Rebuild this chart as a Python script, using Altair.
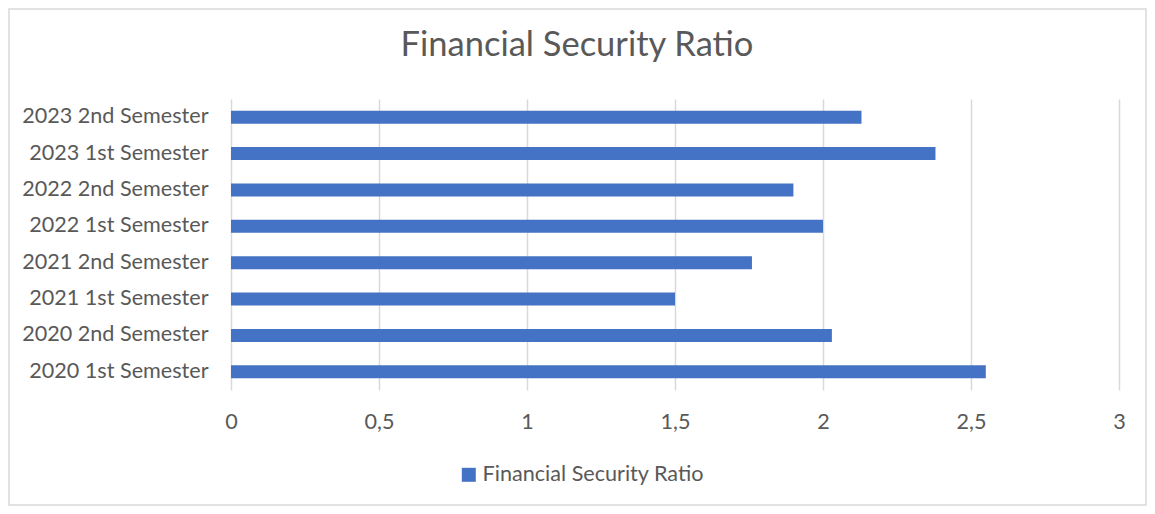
import altair as alt
import pandas as pd

categories = [
    "2020 1st Semester", "2020 2nd Semester",
    "2021 1st Semester", "2021 2nd Semester",
    "2022 1st Semester", "2022 2nd Semester",
    "2023 1st Semester", "2023 2nd Semester",
]
values = [2.55, 2.03, 1.50, 1.76, 2.00, 1.90, 2.38, 2.13]
series_name = "Financial Security Ratio"
chart_title = "Financial Security Ratio"
x_ticks = [0, 0.5, 1, 1.5, 2, 2.5, 3]

df = pd.DataFrame({"cat": categories, "val": values, "series": [series_name] * len(values)})
order_top_down = list(reversed(categories))

FONT = "Lato"
TXT = "#595959"
W, H = 888, 291
PL, PT, PR, PB = 223, 91, 28, 116
LBL = 21.6

bars = alt.Chart(df).mark_bar(color="#4472C4").encode(
    y=alt.Y("cat:N", sort=order_top_down, title=None,
            scale=alt.Scale(paddingInner=0.64, paddingOuter=0.32),
            axis=alt.Axis(labelFontSize=LBL, labelColor=TXT, labelFont=FONT, labelLimit=400,
                          labelPadding=23, ticks=False, domain=False, grid=False)),
    x=alt.X("val:Q", title=None,
            scale=alt.Scale(domain=[0, 3], nice=False),
            axis=alt.Axis(values=x_ticks, labelFontSize=LBL, labelColor=TXT, labelFont=FONT,
                          labelPadding=21, ticks=False, domain=False, grid=True,
                          labelFlush=False,
                          gridColor="#d9d9d9", gridWidth=1.5,
                          labelExpr="replace(format(datum.value, '~g'), '.', ',')")),
    color=alt.Color("series:N", title=None,
                    scale=alt.Scale(range=["#4472C4"]),
                    legend=alt.Legend(orient="none", legendX=227, legendY=365,
                                      symbolType="square", symbolSize=196,
                                      symbolStrokeWidth=0, symbolOpacity=1, labelLimit=500,
                                      labelFontSize=LBL, labelColor=TXT, labelFont=FONT,
                                      labelOffset=3)),
)

title_df = pd.DataFrame({"t": [chart_title]})
title = alt.Chart(title_df).mark_text(
    font=FONT, fontSize=34.5, color=TXT, align="center", baseline="alphabetic"
).encode(text="t:N", x=alt.value(346), y=alt.value(-43))

border = alt.Chart(pd.DataFrame({"k": [0]})).mark_rect(
    fill=None, stroke="#d9d9d9", strokeWidth=1.5
).encode(
    x=alt.value(-PL + 1), x2=alt.value(W + PR - 1),
    y=alt.value(-PT + 1), y2=alt.value(H + PB - 1),
)

chart = alt.layer(border, title, bars).properties(
    width=W, height=H,
    autosize=alt.AutoSizeParams(type="none"),
    padding={"left": PL, "top": PT, "right": PR, "bottom": PB},
).configure_view(stroke=None)

chart.save("out.html", embed_options={"renderer": "svg", "actions": False})
